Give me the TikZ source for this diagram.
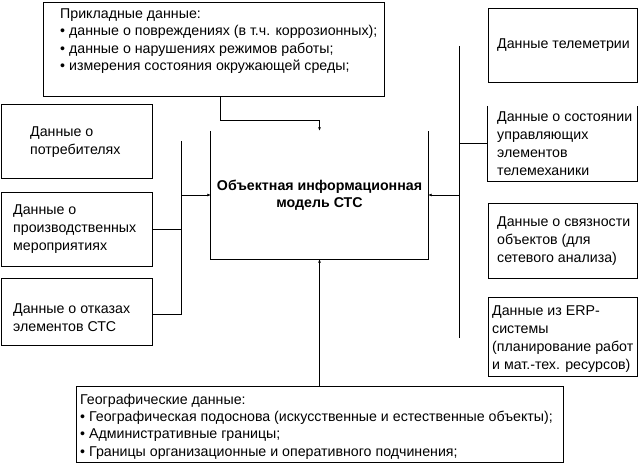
\documentclass[tikz,border=0pt]{standalone}
\usepackage{fontspec}
\setmainfont{Liberation Sans}
\usetikzlibrary{arrows.meta}
\begin{document}
\begin{tikzpicture}[x=1pt,y=-1pt,
  ln/.style={line width=0.8pt},
  arr/.style={-{Latex[length=3.5pt,width=3pt]}},
  box/.style={rectangle, draw, line width=0.8pt, inner sep=0pt},
  openbox/.style={rectangle, inner sep=0pt},
  txt/.style={font=\fontsize{14.2}{18}\selectfont, align=left, inner sep=0pt, anchor=west},
  ttxt/.style={font=\fontsize{14.2}{17.3}\selectfont, align=left, inner sep=0pt, anchor=west}
]
\useasboundingbox (0,0) rectangle (640,465);

% top box
\node[box, minimum width=341, minimum height=94] (top) at (213.5,49) {};
\node[ttxt] (topt) at (60,41) {Прикладные данные:\\
• данные о повреждениях (в т.ч. коррозионных);\\
• данные о нарушениях режимов работы;\\
• измерения состояния окружающей среды;};

% left boxes
\node[box, minimum width=151, minimum height=74] (b1) at (76.5,141) {};
\node[txt] (b1t) at (30,142.5) {Данные о\\потребителях};
\node[box, minimum width=151, minimum height=74] (b2) at (76.5,229) {};
\node[txt] (b2t) at (13,229) {Данные о\\производственных\\мероприятиях};
\node[box, minimum width=151, minimum height=67] (b3) at (76.5,311.5) {};
\node[txt] (b3t) at (13,317.5) {Данные о отказах\\элементов СТС};

% central box (no top edge)
\node[openbox, minimum width=217, minimum height=128, align=center,
      font=\fontsize{14.2}{17.5}\selectfont\bfseries] (cen) at (319.5,195)
      {Объектная информационная\\модель СТС};
\draw[ln] (cen.north west) -- (cen.south west) -- (cen.south east) -- (cen.north east);

% right boxes
\node[box, minimum width=149, minimum height=74] (tel) at (562.5,45) {};
\node[txt] (telt) at (497,45) {Данные телеметрии};
\node[openbox, minimum width=149, minimum height=75] (sost) at (562.5,143.5) {};
\draw[ln] (sost.north west) -- (sost.south west) -- (sost.south east) -- (sost.north east);
\node[txt] (sostt) at (497,144) {Данные о состоянии\\управляющих\\элементов\\телемеханики};
\node[box, minimum width=149, minimum height=75] (svz) at (562.5,240.5) {};
\node[txt] (svzt) at (497,241) {Данные о связности\\объектов (для\\сетевого анализа)};
\node[box, minimum width=149, minimum height=79] (erp) at (562.5,336.5) {};
\node[txt] (erpt) at (492,339.5) {Данные из ERP-\\системы\\(планирование работ\\и мат.-тех. ресурсов)};

% bottom box
\node[box, minimum width=487, minimum height=76] (geo) at (319.5,424) {};
\node[ttxt] (geot) at (80,426.5) {Географические данные:\\
• Географическая подоснова (искусственные и естественные объекты);\\
• Административные границы;\\
• Границы организационные и оперативного подчинения;};

% connectors
\coordinate (tj) at (220,120);
\draw[ln,arr] (top.south -| tj) -- (tj) -| (cen.north);

\coordinate (lbt) at (181,141);
\coordinate (lbb) at (181,314);
\draw[ln] (lbt) -- (lbb) -- (lbb -| b3.east);
\draw[ln] (b2.east) -- (b2.east -| lbt);
\draw[ln,arr] (lbt |- cen.west) -- (cen.west);

\coordinate (rbt) at (459,46);
\coordinate (rbb) at (459,338);
\draw[ln] (rbt) -- (rbb);
\draw[ln] (sost.west) -- (sost.west -| rbt);
\draw[ln,arr] (rbt |- cen.east) -- (cen.east);

\draw[ln,arr] (geo.north -| cen.south) -- (cen.south);
\end{tikzpicture}
\end{document}
